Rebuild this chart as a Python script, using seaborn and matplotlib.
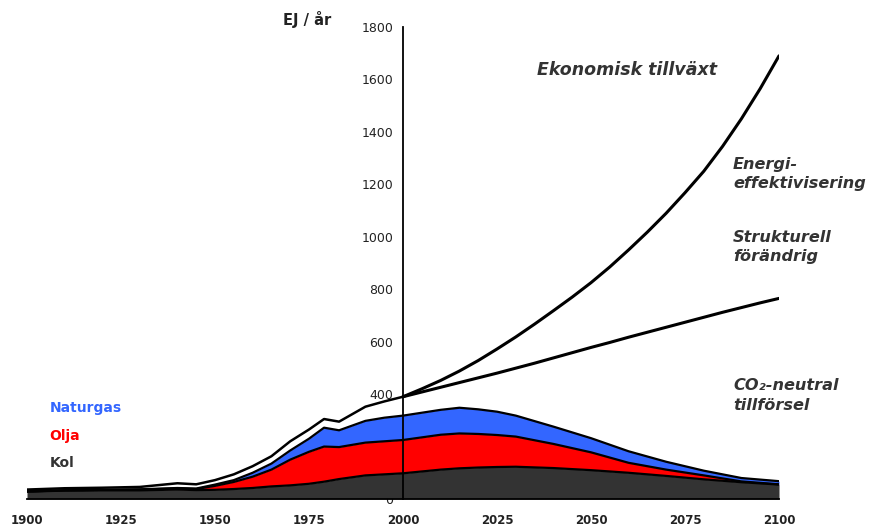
import matplotlib
matplotlib.use("Agg")
import matplotlib.pyplot as plt
import numpy as np
import pandas as pd
import seaborn as sns

# Fossil energy supply, EJ per year (history + outlook)
years = [1900, 1910, 1920, 1930, 1940, 1945, 1950, 1955, 1960, 1965, 1970, 1975,
         1979, 1983, 1990, 1995, 2000, 2010, 2015, 2020, 2025, 2030, 2040, 2050,
         2060, 2070, 2080, 2090, 2100]
kol = [28, 32, 33, 33, 36, 34, 35, 38, 42, 48, 52, 58,
       66, 76, 90, 94, 98, 112, 117, 120, 122, 123, 118, 110,
       100, 88, 75, 64, 55]
olja = [1, 1, 2, 3, 4, 4, 15, 27, 43, 64, 98, 122,
        134, 122, 125, 126, 127, 133, 133, 128, 122, 115, 92, 68,
        38, 24, 15, 3, 1]
naturgas = [0, 0, 0, 1, 2, 2, 5, 7, 15, 23, 35, 50,
            72, 64, 83, 90, 93, 95, 98, 94, 89, 80, 66, 54,
            44, 30, 18, 13, 12]

# Historic total energy use
years_total = [1900, 1910, 1920, 1930, 1940, 1945, 1950, 1955, 1960, 1965, 1970,
               1975, 1979, 1983, 1990, 1995, 2000]
total = [36, 41, 43, 46, 60, 56, 72, 94, 125, 163, 220,
         265, 305, 295, 352, 372, 390]

# Scenarios after 2000
years_scen = [2000, 2005, 2010, 2015, 2020, 2025, 2030, 2035, 2040, 2045, 2050,
              2055, 2060, 2065, 2070, 2075, 2080, 2085, 2090, 2095, 2100]
ekonomisk = [390, 420, 452, 488, 528, 572, 618, 667, 718, 770, 825,
             885, 950, 1018, 1090, 1168, 1250, 1345, 1450, 1565, 1690]
strukturell = [390, 408, 426, 444, 462, 480, 499, 518, 538, 558, 578,
               597, 617, 636, 655, 674, 693, 712, 730, 748, 765]

sns.set_style("white")
plt.rcParams['font.family'] = ['DejaVu Sans']

df = pd.DataFrame({'year': years, 'Kol': kol, 'Olja': olja, 'Naturgas': naturgas})
df['kol_top'] = df['Kol']
df['olja_top'] = df['kol_top'] + df['Olja']
df['gas_top'] = df['olja_top'] + df['Naturgas']

fig = plt.figure(figsize=(8.7, 5.28), dpi=100)
ax = fig.add_axes([27/870, 29/528, 752/870, 472/528])

dark = '#333333'
red = '#ff0000'
blue = '#3366ff'

ax.fill_between(df['year'], df['olja_top'], df['gas_top'], color=blue, lw=0)
ax.fill_between(df['year'], df['kol_top'], df['olja_top'], color=red, lw=0)
ax.fill_between(df['year'], 0, df['kol_top'], color=dark, lw=0)

for col in ['kol_top', 'olja_top', 'gas_top']:
    sns.lineplot(x=df['year'], y=df[col], color='black', lw=1.6, ax=ax)

sns.lineplot(x=years_total, y=total, color='black', lw=1.8, ax=ax)
sns.lineplot(x=years_scen, y=ekonomisk, color='black', lw=2.2, ax=ax)
sns.lineplot(x=years_scen, y=strukturell, color='black', lw=2.2, ax=ax)

ax.set_xlim(1900, 2100)
ax.set_ylim(0, 1800)
ax.set_xticks(range(1900, 2101, 25))
ax.set_yticks(range(0, 1801, 200))
ax.set_xlabel('')
ax.set_ylabel('')

ax.spines['top'].set_visible(False)
ax.spines['right'].set_visible(False)
ax.spines['left'].set_position(('data', 2000))
ax.spines['left'].set_linewidth(1.3)
ax.spines['bottom'].set_linewidth(1.3)
ax.spines['left'].set_color('black')
ax.spines['bottom'].set_color('black')
ax.spines['left'].set_zorder(5)

ax.tick_params(axis='both', direction='out', length=5, width=1.3, colors='black',
               labelsize=9, pad=2)
ax.tick_params(axis='x', pad=6)
for lab in ax.get_xticklabels():
    lab.set_fontweight('bold')
    lab.set_fontsize(8.5)
    lab.set_color('#222222')
for lab in ax.get_yticklabels():
    lab.set_color('#222222')

txt = dict(fontweight='bold', fontstyle='italic', color='#333333',
           va='center', ha='left', clip_on=False, linespacing=1.35)
ax.text(2035.6, 1636, 'Ekonomisk tillväxt', fontsize=12.5, **txt)
ax.text(2087.8, 1238, 'Energi-\neffektivisering', fontsize=11.6, **txt)
ax.text(2087.8, 961, 'Strukturell\nförändrig', fontsize=11.6, **txt)
ax.text(2087.8, 395, 'CO₂-neutral\ntillförsel', fontsize=11.6, **txt)

leg = dict(fontsize=10, fontweight='bold', va='center', ha='left')
ax.text(1906, 347, 'Naturgas', color=blue, **leg)
ax.text(1906, 240, 'Olja', color=red, **leg)
ax.text(1906, 137, 'Kol', color=dark, **leg)

ax.text(1968, 1827, 'EJ / år', fontsize=10.5, fontweight='bold', color='#222222',
        va='center', ha='left', clip_on=False)

fig.savefig('out.png', dpi=100)
